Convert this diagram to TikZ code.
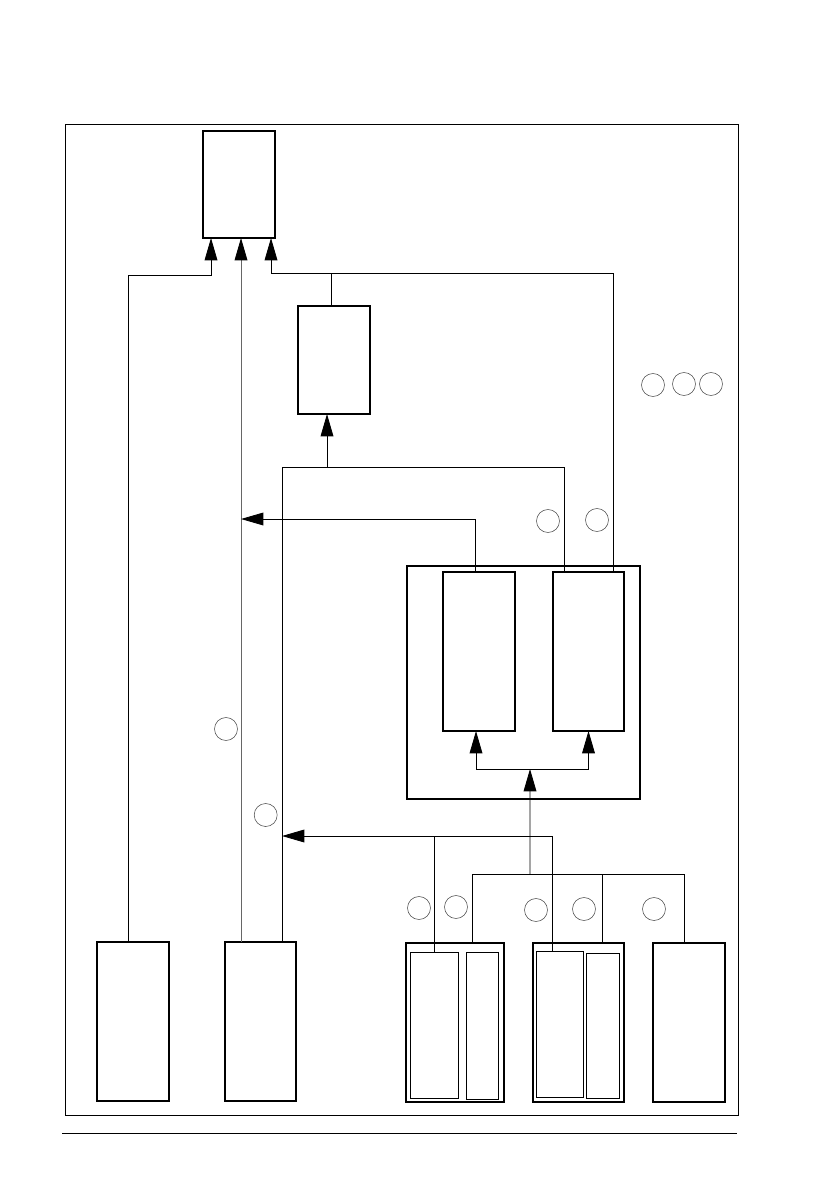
\documentclass[tikz,border=0pt]{standalone}
\usepackage{tikz}
\usetikzlibrary{arrows.meta,calc,positioning}
\newcommand{\px}{0.025cm}
\tikzset{
  marco/.style={
    draw,
    line width=0.7pt,
    minimum width=673*\px,
    minimum height=991*\px,
    inner sep=0pt,
    outer sep=0pt
  },
  caja/.style 2 args={
    draw,
    line width=1.4pt,
    minimum width=#1*\px,
    minimum height=#2*\px,
    inner sep=0pt,
    outer sep=0pt
  },
  sub/.style 2 args={
    draw,
    line width=0.8pt,
    minimum width=#1*\px,
    minimum height=#2*\px,
    inner sep=0pt,
    outer sep=0pt
  },
  marca/.style={
    circle,
    draw=black!70,
    line width=0.4pt,
    minimum size=23*\px,
    inner sep=0pt
  },
  linea/.style={
    line width=0.6pt
  },
  arrow/.style={
    -{Triangle[length=5.6mm,width=3.2mm,color=black]},
    line width=0.6pt
  }
}
\begin{document}
\begin{tikzpicture}[x=\px,y=-\px]
\useasboundingbox (0,0) rectangle (840,1190);
\node[marco] (F) at (401.5,619.5) {};
\draw[line width=0.7pt] (62,1133) -- (737,1133);

\node[caja={72}{107}] (T) at (239,184.5) {};
\node[caja={72}{108}] (M) at (334,360) {};
\node[caja={233}{233}] (C) at (523.5,682.5) {};
\node[caja={72}{159}] (P) at (479,651.5) {};
\node[caja={71}{159}] (Q) at (588.5,651.5) {};
\node[caja={72}{159}] (L1) at (133,1021.5) {};
\node[caja={71}{159}] (L2) at (260.5,1021.5) {};
\node[caja={98}{159}] (B1) at (455,1022.5) {};
\node[sub={48}{146}] (B1a) at (434.3,1025.5) {};
\node[sub={32}{147}] (B1b) at (482.3,1026) {};
\node[caja={91}{159}] (B2) at (578.5,1022.5) {};
\node[sub={47}{146}] (B2a) at (560,1024.5) {};
\node[sub={33}{145}] (B2b) at (603,1025.8) {};
\node[caja={72}{159}] (B3) at (689,1022.5) {};

\foreach \n/\x/\y in {1/653/385,2/684/384,3/711/384,4/548/521,5/597/520,6/226/729,
  7/265.7/815,8/419/908,9/456/907,10/536/910,11/584/909,12/654/909}
  \node[marca] (c\n) at (\x,\y) {};

\draw[arrow] ($(L1.north)+(-5,0)$) |- ($(T.south)+(-28,37)$) -- ($(T.south)+(-28,0)$);
\draw[arrow,black!60] ($(L2.north)+(-19.5,0)$) -- ($(T.south)+(2,0)$);
\draw[arrow] ($(Q.north)+(24.5,0)$) |- ($(T.south)+(32,35)$) -- ($(T.south)+(32,0)$);
\draw[linea] ($(M.north)+(-3,0)$) -- ++(0,-33);

\draw[linea] ($(L2.north)+(21.5,0)$) |- ($(Q.north)+(-24.5,-105)$) -- ($(Q.north)+(-24.5,0)$);
\draw[arrow] ($(M.south)+(-7,53)$) -- ($(M.south)+(-7,0)$);
\draw[arrow] ($(P.north)+(-4,0)$) |- ($(T.south)+(2,281)$);

\draw[arrow] ($(P.south)+(-3,38)$) -- ($(P.south)+(-3,0)$);
\draw[arrow] ($(P.south)+(-3,38)$) -| (Q.south);
\draw[arrow] ($(B1.north)+(75,-69)$) -- ($(C.south)+(6.5,-30)$);

\draw[linea] ($(B1.north)+(17,0)$) |- ($(B3.north)+(-5,-69)$) -- ($(B3.north)+(-5,0)$);
\draw[linea] ($(B2.north)+(23.5,0)$) -- ++(0,-69);
\draw[arrow] ($(B2a.north)+(-8,0)$) |- ($(L2.north)+(21.5,-106)$);
\draw[linea] (B1a.north -| 434.3,0) -- ++(0,-116.5);
\end{tikzpicture}
\end{document}
